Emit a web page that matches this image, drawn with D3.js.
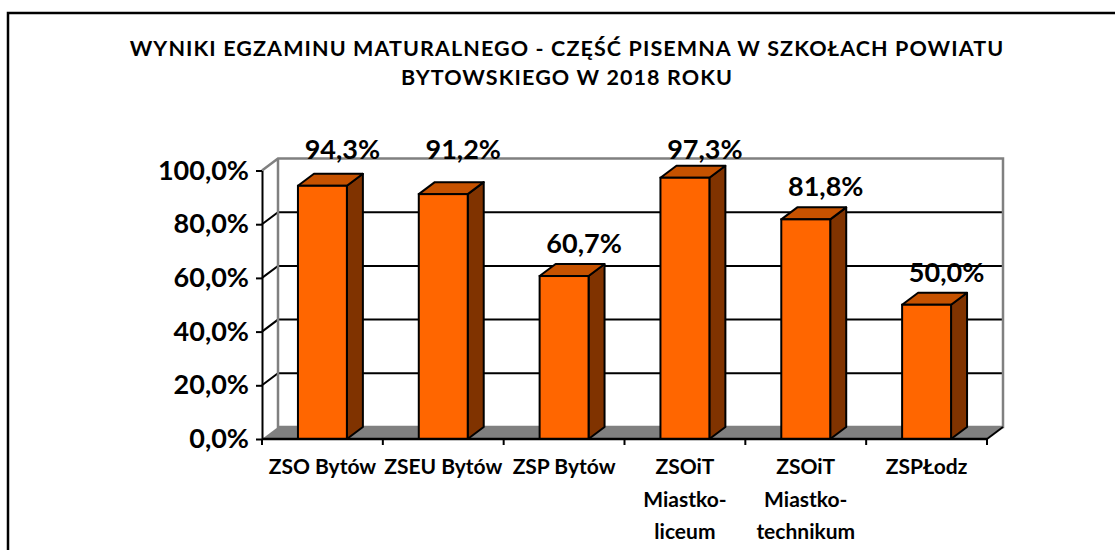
<!DOCTYPE html>
<html>
<head>
<meta charset="utf-8">
<title>Wyniki egzaminu maturalnego 2018</title>
<style>
  body {
    margin: 0;
    background: #fff;
  }

  svg text {
    font-family: Lato, "Open Sans", sans-serif;
    font-weight: bold;
    fill: #000;
  }
</style>
</head>

<body>
  <div id="chart"></div>
</body>

<script src="https://cdn.jsdelivr.net/npm/d3@7"></script>
<script>

  // dane
  let schools = ["ZSO Bytów", "ZSEU Bytów", "ZSP Bytów", "ZSOiT Miastko-liceum", "ZSOiT Miastko-technikum", "ZSPŁodz"];
  let schoolLines = [["ZSO Bytów"], ["ZSEU Bytów"], ["ZSP Bytów"], ["ZSOiT", "Miastko-", "liceum"], ["ZSOiT", "Miastko-", "technikum"], ["ZSPŁodz"]];
  let passRate = [0.943, 0.912, 0.607, 0.973, 0.818, 0.500];
  let yTicks = [0, 0.2, 0.4, 0.6, 0.8, 1.0];
  let titleLines = ["WYNIKI EGZAMINU MATURALNEGO - CZĘŚĆ PISEMNA W SZKOŁACH POWIATU", "BYTOWSKIEGO W 2018 ROKU"];

  let width = 1115, height = 550;
  let dx = 16, dy = -12; // głębokość 3D

  let pl = d3.formatLocale({ decimal: ",", thousands: " ", grouping: [3], currency: ["", " zł"] });
  let pct = pl.format(".1%");

  let x = d3.scaleBand()
    .domain(schools)
    .range([262, 987]);

  let y = d3.scaleLinear()
    .domain([0, 1])
    .range([439, 170.5]);

  let barW = x.bandwidth() * 0.405;

  let svg = d3.select("#chart").append("svg")
    .attr("width", width)
    .attr("height", height);

  // ramka
  svg.append("rect")
    .attr("x", 8).attr("y", 13)
    .attr("width", 1200).attr("height", 700)
    .attr("fill", "none")
    .attr("stroke", "#000")
    .attr("stroke-width", 2.5);

  // tytuł
  svg.append("g").selectAll("text")
    .data(titleLines)
    .join("text")
    .attr("x", 567)
    .attr("y", (d, i) => 56 + i * 28.6)
    .attr("text-anchor", "middle")
    .attr("font-size", 21.5)
    .attr("letter-spacing", 1.1)
    .text(d => d);

  let x0 = x.range()[0], x1 = x.range()[1];

  // tylna ściana
  svg.append("rect")
    .attr("x", x0 + dx).attr("y", y(1) + dy)
    .attr("width", x1 - x0).attr("height", y(0) - y(1))
    .attr("fill", "#fff");

  // linie siatki
  let inner = yTicks.filter(t => t > 0 && t < 1);
  svg.append("g").selectAll("path")
    .data(inner)
    .join("path")
    .attr("d", t => `M${x0},${y(t)}L${x0 + dx},${y(t) + dy}L${x1 + dx},${y(t) + dy}`)
    .attr("fill", "none")
    .attr("stroke", "#000")
    .attr("stroke-width", 2);

  // krawędzie ściany
  svg.append("path")
    .attr("d", `M${x0},${y(1)}L${x0 + dx},${y(1) + dy}L${x1 + dx},${y(1) + dy}L${x1 + dx},${y(0) + dy}L${x0 + dx},${y(0) + dy}L${x0 + dx},${y(1) + dy}`)
    .attr("fill", "none")
    .attr("stroke", "#808080")
    .attr("stroke-width", 2.5);

  // podłoga
  svg.append("path")
    .attr("d", `M${x0},${y(0)}L${x1},${y(0)}L${x1 + dx},${y(0) + dy}L${x0 + dx},${y(0) + dy}Z`)
    .attr("fill", "#808080")
    .attr("stroke", "none");
  svg.append("path")
    .attr("d", `M${x1},${y(0)}L${x1 + dx},${y(0) + dy}`)
    .attr("stroke", "#000")
    .attr("stroke-width", 2);

  // słupki
  let data = schools.map((s, i) => ({ s, v: passRate[i] }));
  let bars = svg.append("g").selectAll("g")
    .data(data)
    .join("g");

  let bx = d => x(d.s) + (x.bandwidth() - barW) / 2;

  bars.append("path") // bok
    .attr("d", d => {
      let r = bx(d) + barW, t = y(d.v), b = y(0);
      return `M${r},${t}L${r + dx},${t + dy}L${r + dx},${b + dy}L${r},${b}Z`;
    })
    .attr("fill", "#803300")
    .attr("stroke", "#000")
    .attr("stroke-width", 2)
    .attr("stroke-linejoin", "round");

  bars.append("path") // góra
    .attr("d", d => {
      let l = bx(d), r = l + barW, t = y(d.v);
      return `M${l},${t}L${r},${t}L${r + dx},${t + dy}L${l + dx},${t + dy}Z`;
    })
    .attr("fill", "#C65200")
    .attr("stroke", "#000")
    .attr("stroke-width", 2)
    .attr("stroke-linejoin", "round");

  bars.append("rect") // przód
    .attr("x", d => bx(d))
    .attr("y", d => y(d.v))
    .attr("width", barW)
    .attr("height", d => y(0) - y(d.v))
    .attr("fill", "#FF6600")
    .attr("stroke", "#000")
    .attr("stroke-width", 2);

  // etykiety wartości (przy wysokich słupkach przypięte do górnej krawędzi)
  bars.append("text")
    .attr("x", d => x(d.s) + x.bandwidth() / 2 + 20)
    .attr("y", d => {
      let t = y(d.v) + dy - 11;
      return t < 180 ? 158.5 : t;
    })
    .attr("text-anchor", "middle")
    .attr("font-size", 27)
    .text(d => pct(d.v));

  // oś Y
  let yAxis = svg.append("g")
    .attr("transform", `translate(${x0},0)`)
    .call(d3.axisLeft(y).tickValues(yTicks).tickFormat(pct).tickSize(6).tickSizeOuter(0).tickPadding(7));
  yAxis.selectAll("line, path").attr("stroke", "#000").attr("stroke-width", 2);
  yAxis.selectAll("text").attr("font-size", 27).attr("font-family", null);

  // oś X
  svg.append("g").selectAll("line")
    .data(schools.map(s => x(s)).concat([x1]))
    .join("line")
    .attr("x1", d => d).attr("x2", d => d)
    .attr("y1", y(0)).attr("y2", y(0) + 6)
    .attr("stroke", "#000")
    .attr("stroke-width", 2);

  svg.append("line")
    .attr("x1", x0).attr("x2", x1)
    .attr("y1", y(0)).attr("y2", y(0))
    .attr("stroke", "#000")
    .attr("stroke-width", 2.5);

  let labels = svg.append("g").selectAll("text")
    .data(schools)
    .join("text")
    .attr("text-anchor", "middle")
    .attr("font-size", 21);

  labels.selectAll("tspan")
    .data((d, i) => schoolLines[i].map(line => ({ line, cx: x(d) + x.bandwidth() / 2 })))
    .join("tspan")
    .attr("x", d => d.cx)
    .attr("y", (d, j) => 474 + j * 32.6)
    .text(d => d.line);

</script>

</html>
